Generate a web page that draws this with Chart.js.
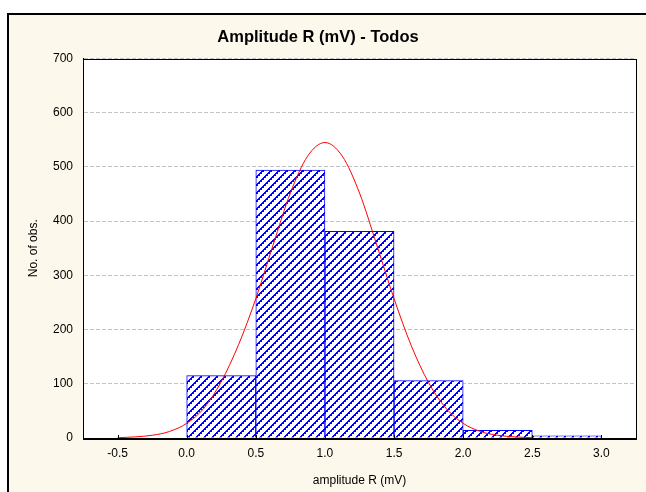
<!DOCTYPE html>
<html>
<head>
<meta charset="utf-8">
<script src="https://cdn.jsdelivr.net/npm/chart.js@4/dist/chart.umd.min.js"></script>
<style>
html,body{margin:0;padding:0;background:#fff;}
#wrap{position:relative;width:646px;height:492px;}
canvas{display:block;}
</style>
</head>
<body>
<div id="wrap"><canvas id="c" width="646" height="492"></canvas></div>
<script>
// Histogram bins (lower edges, mV), counts
const binStarts = [0.0, 0.5, 1.0, 1.5, 2.0, 2.5];
const binWidth = 0.5;
const counts = [115, 494, 381, 106, 14, 4];

// Expected normal curve
const curveX = [-0.5,-0.375,-0.25,-0.125,0,0.125,0.25,0.375,0.5,0.625,0.75,0.875,1.0,1.125,1.25,1.375,1.5,1.625,1.75,1.875,2.0,2.125,2.25,2.375,2.5];
const curveY = [0.5,2,5,12,27,55,104,172,257,356,452,520,545,520,452,356,257,170,102,55,27,12,5,2,0.5];

// Axis ticks
const xTicks = [-0.5, 0.0, 0.5, 1.0, 1.5, 2.0, 2.5, 3.0];
const yTicks = [0, 100, 200, 300, 400, 500, 600, 700];

const titleText = 'Amplitude R (mV) - Todos';
const xTitle = 'amplitude R (mV)';
const yTitle = 'No. of obs.';

function makePattern() {
  const n = 8;
  const t = document.createElement('canvas');
  t.width = n; t.height = n;
  const g = t.getContext('2d');
  g.fillStyle = '#ffffff';
  g.fillRect(0, 0, n, n);
  g.fillStyle = '#0000ff';
  for (let y = 0; y < n; y++) {
    for (let x = 0; x < n; x++) {
      const d = (x + y) % n;
      if (d === 0 || d === 1 || (d === 2 && x % 2 === 1)) g.fillRect(x, y, 1, 1);
    }
  }
  return document.getElementById('c').getContext('2d').createPattern(t, 'repeat');
}

const FONT = "'Liberation Sans', Arial, sans-serif";

const framePlugin = {
  id: 'frame',
  beforeDraw(chart) {
    const ctx = chart.ctx;
    const a = chart.chartArea;
    ctx.save();
    ctx.fillStyle = '#ffffff';
    ctx.fillRect(0, 0, chart.width, chart.height);
    ctx.fillStyle = '#fdf8ec';
    ctx.fillRect(7, 13, chart.width, chart.height);
    ctx.strokeStyle = '#000';
    ctx.lineWidth = 2;
    ctx.beginPath();
    ctx.moveTo(8, chart.height + 2);
    ctx.lineTo(8, 14);
    ctx.lineTo(chart.width + 2, 14);
    ctx.stroke();
    ctx.fillStyle = '#ffffff';
    ctx.fillRect(a.left, a.top, a.right - a.left, a.bottom - a.top);
    ctx.restore();
  },
  afterDraw(chart) {
    const ctx = chart.ctx;
    const a = chart.chartArea;
    const xs = chart.scales.x;
    ctx.save();
    ctx.strokeStyle = '#000';
    ctx.lineWidth = 1;
    ctx.strokeRect(Math.round(a.left) + 0.5, Math.round(a.top) + 0.5, Math.round(a.right - a.left), Math.round(a.bottom - a.top));
    ctx.beginPath();
    xTicks.forEach(v => {
      const px = Math.round(xs.getPixelForValue(v)) + 0.5;
      ctx.moveTo(px, a.bottom);
      ctx.lineTo(px, a.bottom - 3);
    });
    ctx.stroke();
    ctx.restore();
  }
};

const barData = binStarts.map((s, i) => ({x: s + binWidth / 2, y: counts[i]}));
const curveData = curveX.map((x, i) => ({x: x, y: curveY[i]}));

new Chart(document.getElementById('c'), {
  type: 'bar',
  data: {
    datasets: [
      {
        type: 'line',
        data: curveData,
        borderColor: '#ff0000',
        borderWidth: 1,
        pointRadius: 0,
        tension: 0.4,
        cubicInterpolationMode: 'monotone',
        fill: false,
        order: 0
      },
      {
        type: 'bar',
        data: barData,
        backgroundColor: makePattern(),
        borderColor: '#0000ff',
        borderWidth: 1,
        borderSkipped: 'start',
        barPercentage: 1.0,
        categoryPercentage: 1.0,
        order: 1
      }
    ]
  },
  options: {
    responsive: false,
    animation: false,
    layout: {padding: {left: 0, right: 10, top: 0, bottom: 0}},
    plugins: {
      legend: {display: false},
      tooltip: {enabled: false},
      title: {
        display: true,
        text: titleText,
        color: '#000',
        font: {family: FONT, size: 16.5, weight: 'bold'},
        padding: {top: 27.5, bottom: 11.2}
      }
    },
    scales: {
      x: {
        type: 'linear',
        min: -0.75,
        max: 3.25,
        offset: false,
        afterBuildTicks: s => { s.ticks = xTicks.map(v => ({value: v})); },
        afterFit: s => { s.height = 54; },
        ticks: {
          color: '#000',
          font: {family: FONT, size: 12},
          padding: 8,
          maxRotation: 0,
          autoSkip: false,
          callback: v => Number(v).toFixed(1)
        },
        grid: {display: true, drawOnChartArea: false, drawTicks: false},
        border: {display: true, color: '#000'},
        title: {
          display: true,
          text: xTitle,
          color: '#000',
          font: {family: FONT, size: 12},
          padding: {top: 0, bottom: 4}
        }
      },
      y: {
        type: 'linear',
        min: 0,
        max: 700,
        afterBuildTicks: s => { s.ticks = yTicks.map(v => ({value: v})); },
        afterFit: s => { s.width = 83; },
        ticks: {
          color: '#000',
          font: {family: FONT, size: 12},
          padding: 10
        },
        grid: {color: '#c4c4c4', drawTicks: false, lineWidth: 1},
        border: {display: true, color: '#000', dash: [4, 2]},
        title: {
          display: true,
          text: yTitle,
          color: '#000',
          font: {family: FONT, size: 12},
          padding: {top: 26, bottom: 0}
        }
      }
    }
  },
  plugins: [framePlugin]
});
</script>
</body>
</html>
